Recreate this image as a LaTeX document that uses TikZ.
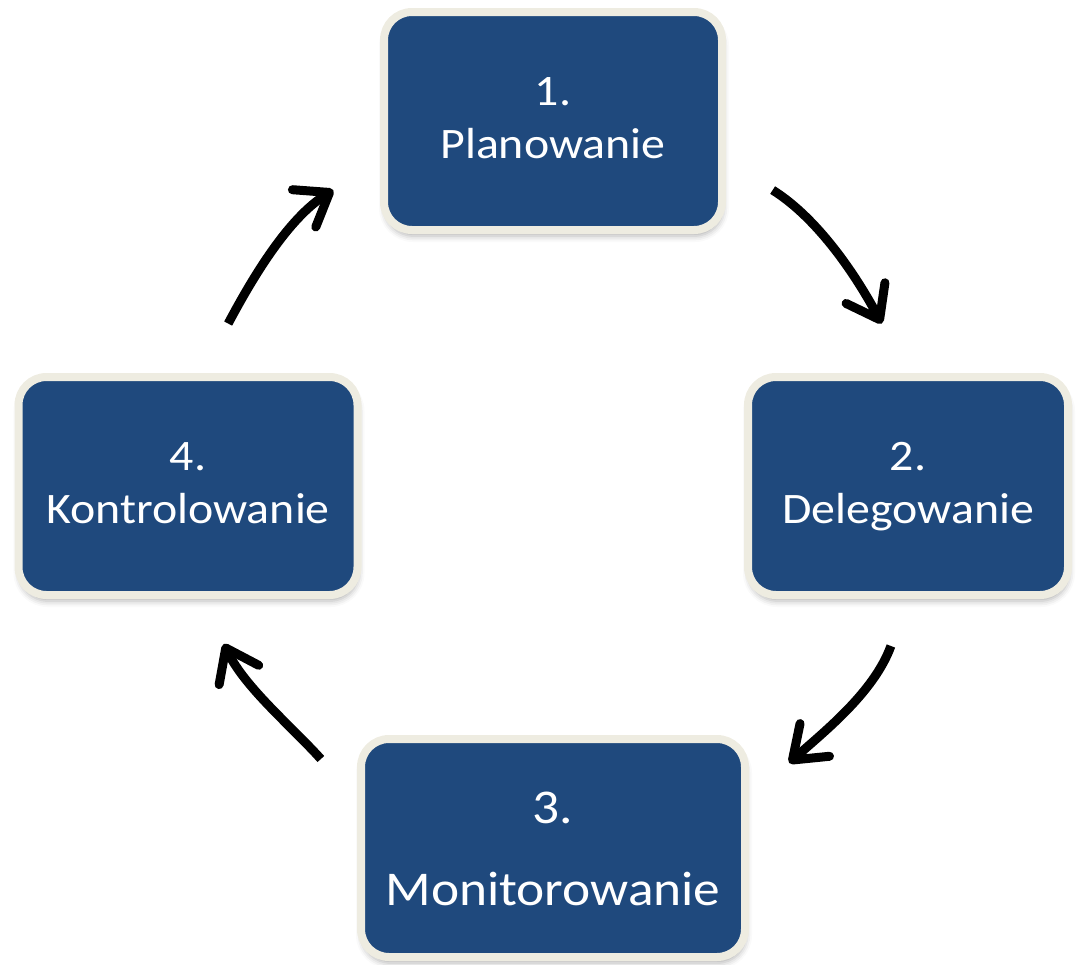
\documentclass[tikz,border=0pt]{standalone}
\usepackage{fontspec}
\setmainfont[FakeStretch=1.1]{Carlito}
\usepackage{tikz}
\usetikzlibrary{positioning,arrows.meta,shadows.blur}
\definecolor{boxblue}{HTML}{1F497D}
\definecolor{boxrim}{HTML}{EEECE1}

\begin{document}
\begin{tikzpicture}[x=1pt, y=1pt,
  step node/.style={draw=boxrim, line width=8pt, fill=boxblue, text=white,
    rounded corners=28pt, minimum width=338pt, minimum height=218pt,
    inner sep=0pt, align=center, font=\fontsize{43.5}{53}\selectfont,
    blur shadow={shadow xshift=1pt, shadow yshift=-6pt, shadow blur radius=6pt, shadow opacity=30}},
  cycle arrow/.style={line width=9pt, -{Straight Barb[length=30pt,width=44pt,round]}},
  node distance=365pt and 355pt, on grid]
  \useasboundingbox (0,0) rectangle (1076,-964);
  \clip (0,0) rectangle (1076,-964);

  \node[step node] (plan) at (553,-121) {1.\strut\\Planowanie\strut};
  \node[step node, minimum width=320pt] (deleg) [below right=365pt and 355pt of plan] {2.\strut\\Delegowanie\strut};
  \node[step node, minimum width=384pt, font=\fontsize{48.5}{82}\selectfont] (mon) [below=727pt of plan] {3.\strut\\Monitorowanie\strut};
  \node[step node, minimum width=339pt] (kontr) [below left=365pt and 365pt of plan] {4.\strut\\Kontrolowanie\strut};

  \draw[cycle arrow, shorten <=55pt, shorten >=56pt] (plan.-13) to[out=-32, in=118] (deleg.north);
  \draw[cycle arrow, shorten <=50pt, shorten >=54pt] (deleg.south) to[out=-110, in=42] (mon.14);
  \draw[cycle arrow, shorten <=54pt, shorten >=50pt] (mon.166) to[out=132, in=-64] (kontr.-83);
  \draw[cycle arrow, shorten <=56pt, shorten >=55pt] (kontr.83) to[out=62, in=-148] (plan.193);
\end{tikzpicture}
\end{document}
